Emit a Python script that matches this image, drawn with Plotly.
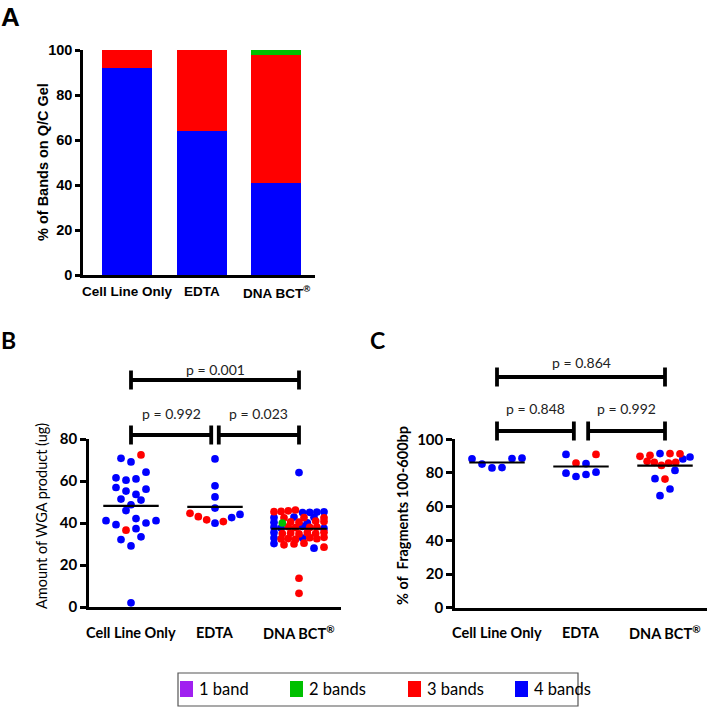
import numpy as np
import plotly.graph_objects as go

W, H = 709, 711

# ---------------- DATA ----------------
groups = ["Cell Line Only", "EDTA", "DNA BCT<sup>®</sup>"]
band_labels = ["1 band", "2 bands", "3 bands", "4 bands"]
band_colors = {1: "#a020f0", 2: "#00c000", 3: "#ff0000", 4: "#0000ff"}

# Panel A: % of bands on Q/C gel (stacked)
pct_4band = [92, 64, 41]
pct_3band = [8, 36, 57]
pct_2band = [0, 0, 2]
pct_1band = [0, 0, 0]

# Panel B: amount of WGA product (ug), with band class of each sample
wga_cell = [70.8, 69.1, 72.4,
            61.5, 60.4, 61.0, 64.2,
            56.9, 55.2, 53.6, 56.1,
            51.4, 48.7, 50.9,
            45.9, 42.1,
            41.1, 39.2, 36.6, 37.3, 40.0, 41.1,
            32.1, 29.1, 33.4,
            2.0]
wga_cell_bands = [4, 4, 3,
                  4, 4, 4, 4,
                  4, 4, 4, 4,
                  4, 4, 4,
                  4, 4,
                  4, 4, 3, 4, 4, 4,
                  4, 4, 4,
                  4]
wga_edta = [70.5, 57.7, 52.4, 47.1, 44.6, 43.0, 41.5, 39.9, 40.7, 42.6, 44.1]
wga_edta_bands = [4, 4, 4, 4, 3, 3, 3, 4, 3, 4, 4]
wga_bct = [64.0,
           45.4, 45.5, 45.8, 46.2, 45.0, 45.1, 45.2, 45.3,
           42.6, 42.5, 42.8, 42.6, 42.7, 42.5,
           40.3, 40.0, 40.6, 40.4, 40.1, 40.9, 40.7,
           38.0, 37.6, 38.2, 37.8, 38.4, 37.9, 38.1, 37.4,
           35.5, 35.0, 35.2, 34.8, 35.4, 35.0, 35.6,
           32.9, 32.4, 32.6, 32.2, 32.8, 33.0, 32.5, 33.2,
           30.2, 29.6, 30.0, 30.4, 28.0, 28.5,
           13.7, 6.5]
wga_bct_bands = [4,
                 3, 3, 3, 3, 4, 4, 4, 4,
                 4, 3, 4, 3, 4, 3,
                 4, 2, 3, 3, 4, 3, 3,
                 4, 4, 3, 3, 4, 3, 3, 4,
                 4, 3, 3, 3, 3, 3, 3,
                 4, 3, 3, 3, 4, 3, 3, 3,
                 4, 3, 3, 3, 4, 3,
                 3, 3]

# Panel C: % of fragments 100-600bp
frag_cell = [88.4, 85.3, 83.0, 83.2, 88.6, 88.8]
frag_cell_bands = [4, 4, 4, 4, 4, 4]
frag_edta = [91.0, 85.9, 85.5, 91.0, 79.9, 77.9, 79.1, 80.5]
frag_edta_bands = [4, 3, 4, 3, 4, 4, 4, 4]
frag_bct = [90.5, 89.9, 86.9, 91.5, 76.6, 86.3, 66.5, 84.5, 91.5, 76.4,
            70.5, 85.9, 91.4, 86.3, 81.5, 88.3, 89.5]
frag_bct_bands = [3, 3, 3, 4, 4, 3, 4, 3, 3, 3,
                  4, 3, 3, 3, 4, 4, 4]

pvals_B = [(0, 2, "p = 0.001"), (0, 1, "p = 0.992"), (1, 2, "p = 0.023")]
pvals_C = [(0, 2, "p = 0.864"), (0, 1, "p = 0.848"), (1, 2, "p = 0.992")]

# ---------------- HELPERS ----------------
def pxx(x):
    return x / W


def pyy(y):
    return 1 - y / H


def row_layout(vals, ypx, h0=10.1, s_max=10.0, maxw=50.0, nmax=8):
    """GraphPad-like scatter-dot layout: points close in value share a row."""
    vals = np.asarray(vals, float)
    order = np.argsort(vals, kind="stable")
    h = h0
    while True:
        rows, cur, bottom = [], [], None
        for i in order:
            v = vals[i]
            if cur and (v - bottom) * ypx > h + 1e-9:
                rows.append(cur)
                cur = []
            if not cur:
                bottom = v
            cur.append(i)
        if cur:
            rows.append(cur)
        if max(len(r) for r in rows) <= nmax or h <= 1:
            break
        h -= 0.25
    offs = np.zeros(len(vals))
    for r in rows:
        r = sorted(r)
        n = len(r)
        s = s_max if n <= 1 else min(s_max, maxw / (n - 1))
        for k, i in enumerate(r):
            offs[i] = (k - (n - 1) / 2) * s
    return offs


FONT_A = "Liberation Sans, Arial, sans-serif"
FONT_BC = "Lato, Open Sans, sans-serif"

fig = go.Figure()

# ---------------- PANEL A ----------------
for vals, b in [(pct_4band, 4), (pct_3band, 3), (pct_2band, 2), (pct_1band, 1)]:
    fig.add_trace(go.Bar(x=[0, 1, 2], y=vals, marker=dict(color=band_colors[b], line=dict(width=0)),
                         width=0.67, xaxis="x", yaxis="y", showlegend=False,
                         name=band_labels[b - 1]))


# ---------------- PANELS B and C ----------------
def scatter_panel(datasets, xa, ya, ypx, xpx, msize, half):
    for gi, (vals, bands) in enumerate(datasets):
        offs = row_layout(vals, ypx)
        xs = gi + offs / xpx
        vals = np.asarray(vals)
        bands = np.asarray(bands)
        for b in (4, 3, 2, 1):
            m = bands == b
            if m.any():
                fig.add_trace(go.Scatter(x=xs[m], y=vals[m], mode="markers",
                                         marker=dict(color=band_colors[b], size=msize, line=dict(width=0)),
                                         xaxis=xa, yaxis=ya, showlegend=False, cliponaxis=False,
                                         hoverinfo="y"))
    for gi, (vals, bands) in enumerate(datasets):
        mu = float(np.mean(vals))
        fig.add_trace(go.Scatter(x=[gi - half, gi + half], y=[mu, mu], mode="lines",
                                 line=dict(color="black", width=2.2), xaxis=xa, yaxis=ya,
                                 showlegend=False, cliponaxis=False, hoverinfo="skip"))


B_xpx = (341 - 89) / 3.0
B_ypx = (607 - 439) / 80.0
C_xpx = (707 - 455) / 3.0
C_ypx = (607.7 - 439.3) / 100.0

scatter_panel([(wga_cell, wga_cell_bands), (wga_edta, wga_edta_bands), (wga_bct, wga_bct_bands)],
              "x2", "y2", B_ypx, B_xpx, 7.7, 0.33)
scatter_panel([(frag_cell, frag_cell_bands), (frag_edta, frag_edta_bands), (frag_bct, frag_bct_bands)],
              "x3", "y3", C_ypx, C_xpx, 7.7, 0.33)

shapes = []
annotations = []


def brackets(xref, pv, y_top, y_low, gap, text_top, text_low):
    for a, b, txt in pv:
        if b - a == 2:
            yh, x0, x1, ty = y_top, a, b, text_top
        else:
            yh, ty = y_low, text_low
            x0 = a + (gap if a == 1 else 0)
            x1 = b - (gap if b == 1 else 0)
        for xx in (x0, x1):
            shapes.append(dict(type="line", xref=xref, yref="paper", x0=xx, x1=xx,
                               y0=pyy(yh - 9.5), y1=pyy(yh + 9.5), line=dict(color="black", width=3.8)))
        shapes.append(dict(type="line", xref=xref, yref="paper", x0=x0, x1=x1,
                           y0=pyy(yh), y1=pyy(yh), line=dict(color="black", width=3.8)))
        annotations.append(dict(xref=xref, yref="paper", x=(x0 + x1) / 2, y=pyy(ty), text=txt,
                                showarrow=False, font=dict(family=FONT_BC, size=14, color="#222"),
                                xanchor="center", yanchor="middle"))


brackets("x2", pvals_B, 380, 435, 0.045, 369, 413)
brackets("x3", pvals_C, 377, 431, 0.085, 362, 408)

# category labels under each x axis
for xref, fam, size, yc in [("x", FONT_A, 13.5, 292), ("x2", FONT_BC, 14.5, 632), ("x3", FONT_BC, 14.5, 632)]:
    for gi, g in enumerate(groups):
        annotations.append(dict(xref=xref, yref="paper", x=gi, y=pyy(yc), text=g, showarrow=False,
                                xanchor="center", yanchor="middle",
                                font=dict(family=fam, size=size, color="black", weight="bold")))

# ---------------- AXES ----------------
axcommon = dict(showgrid=False, zeroline=False, showline=True, linecolor="black", linewidth=2.5,
                automargin=False)
ya_common = dict(axcommon, ticks="outside", ticklen=5, tickwidth=2.5, tickcolor="black")
xa_common = dict(axcommon, ticks="", showticklabels=False)

fig.update_layout(
    template="none",
    xaxis=dict(xa_common, domain=[pxx(83), pxx(315)], range=[-0.59, 2.52], anchor="y"),
    yaxis=dict(ya_common, domain=[pyy(275), pyy(50)], range=[0, 100], anchor="x",
               tickvals=[0, 20, 40, 60, 80, 100],
               tickfont=dict(family=FONT_A, size=14.5, color="black", weight="bold")),
    xaxis2=dict(xa_common, domain=[pxx(89), pxx(341)], range=[-0.5, 2.5], anchor="y2"),
    yaxis2=dict(ya_common, domain=[pyy(607), pyy(439)], range=[0, 80], anchor="x2",
                tickvals=[0, 20, 40, 60, 80], ticklen=6,
                tickfont=dict(family=FONT_BC, size=15, color="black", weight="bold")),
    xaxis3=dict(xa_common, domain=[pxx(455), pxx(707)], range=[-0.5, 2.5], anchor="y3"),
    yaxis3=dict(ya_common, domain=[pyy(607.7), pyy(439.3)], range=[0, 100], anchor="x3",
                tickvals=[0, 20, 40, 60, 80, 100], ticklen=6,
                tickfont=dict(family=FONT_BC, size=15, color="black", weight="bold")),
    barmode="stack",
    width=W, height=H,
    margin=dict(l=0, r=0, t=0, b=0, autoexpand=False),
    paper_bgcolor="white", plot_bgcolor="white",
    showlegend=False,
)

# Axis titles and panel letters
annotations += [
    dict(x=pxx(43), y=pyy(162), text="% of Bands on Q/C Gel", textangle=-90,
         font=dict(family=FONT_A, size=14.5, color="black", weight="bold")),
    dict(x=pxx(41), y=pyy(516), text="Amount of WGA product (ug)", textangle=-90,
         font=dict(family=FONT_BC, size=14.5, color="black")),
    dict(x=pxx(402), y=pyy(516), text="% of  Fragments 100-600bp", textangle=-90,
         font=dict(family=FONT_BC, size=14.5, color="black", weight="bold")),
    dict(x=pxx(10), y=pyy(17), text="A", font=dict(family=FONT_A, size=26, color="black", weight="bold")),
    dict(x=pxx(8), y=pyy(340), text="B", font=dict(family=FONT_BC, size=23, color="black", weight="bold")),
    dict(x=pxx(378), y=pyy(340), text="C", font=dict(family=FONT_BC, size=23, color="black", weight="bold")),
]
for a in annotations:
    a.setdefault("xref", "paper")
    a.setdefault("yref", "paper")
    a.setdefault("showarrow", False)
    a.setdefault("xanchor", "center")
    a.setdefault("yanchor", "middle")

# ---------------- LEGEND (manual) ----------------
shapes.append(dict(type="rect", xref="paper", yref="paper", x0=pxx(178), x1=pxx(578),
                   y0=pyy(706), y1=pyy(673), line=dict(color="#555", width=1.2), fillcolor="white"))
leg_x = [180, 290, 408, 515]
for i, b in enumerate((1, 2, 3, 4)):
    x0 = leg_x[i]
    shapes.append(dict(type="rect", xref="paper", yref="paper", x0=pxx(x0), x1=pxx(x0 + 13),
                       y0=pyy(697), y1=pyy(681), line=dict(width=0), fillcolor=band_colors[b]))
    annotations.append(dict(xref="paper", yref="paper", x=pxx(x0 + 17), y=pyy(689),
                            text=band_labels[b - 1], showarrow=False, xanchor="left", yanchor="middle",
                            font=dict(family=FONT_BC, size=16.5, color="black")))

fig.update_layout(shapes=shapes, annotations=annotations)
fig.write_html("out.html", config={"displayModeBar": False},
               post_script="document.body.style.margin='0';document.body.style.overflow='hidden';")
